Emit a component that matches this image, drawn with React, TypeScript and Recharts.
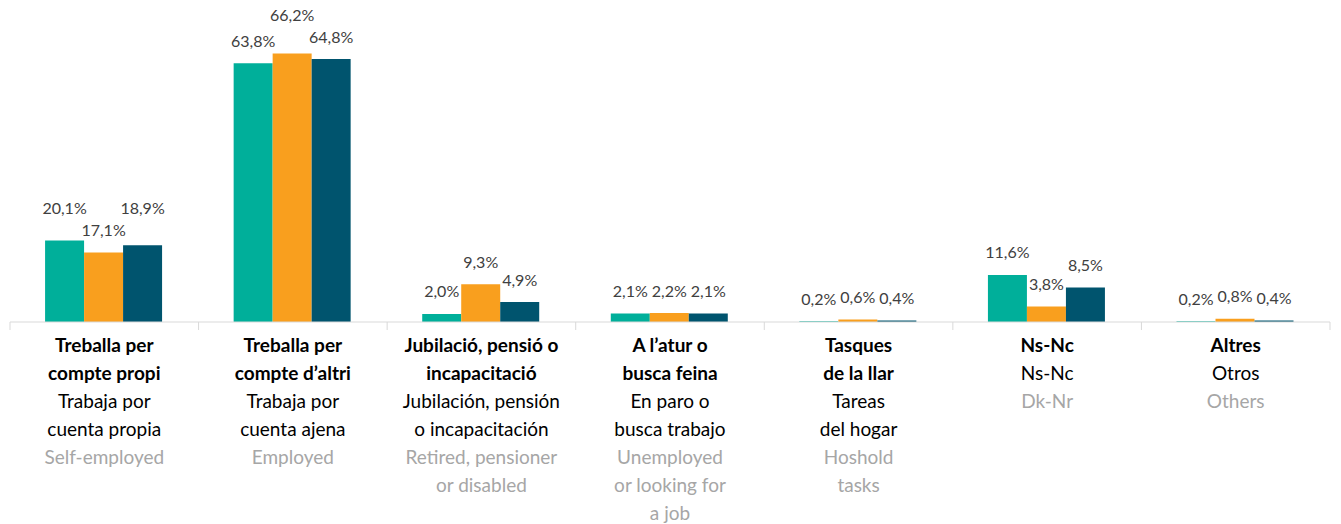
import { BarChart, Bar, XAxis, YAxis, LabelList } from 'recharts'

const categoryKeys = ['propi', 'altri', 'jubilacio', 'atur', 'llar', 'nsnc', 'altres']

// Catalan (bold), Spanish, English lines for every category
const labelsCa = [
  ['Treballa per', 'compte propi'],
  ['Treballa per', 'compte d\u2019altri'],
  ['Jubilació, pensió o', 'incapacitació'],
  ['A l\u2019atur o', 'busca feina'],
  ['Tasques', 'de la llar'],
  ['Ns-Nc'],
  ['Altres'],
]
const labelsEs = [
  ['Trabaja por', 'cuenta propia'],
  ['Trabaja por', 'cuenta ajena'],
  ['Jubilación, pensión', 'o incapacitación'],
  ['En paro o', 'busca trabajo'],
  ['Tareas', 'del hogar'],
  ['Ns-Nc'],
  ['Otros'],
]
const labelsEn = [
  ['Self-employed'],
  ['Employed'],
  ['Retired, pensioner', 'or disabled'],
  ['Unemployed', 'or looking for', 'a job'],
  ['Hoshold', 'tasks'],
  ['Dk-Nr'],
  ['Others'],
]

const serieA = [20.1, 63.8, 2.0, 2.1, 0.2, 11.6, 0.2]
const serieB = [17.1, 66.2, 9.3, 2.2, 0.6, 3.8, 0.8]
const serieC = [18.9, 64.8, 4.9, 2.1, 0.4, 8.5, 0.4]

const series = [serieA, serieB, serieC]
const colors = ['#00AF9A', '#F99F1E', '#00546E']

const data = categoryKeys.map((key, i) => ({
  key,
  a: serieA[i],
  b: serieB[i],
  c: serieC[i],
}))

const W = 1325
const H = 516
const M = { top: 30, right: 3, left: 2, bottom: 0 }
const Y_MAX = 70
const AXIS_H = 202
const PLOT_H = H - M.top - AXIS_H
const BAND = (W - M.left - M.right) / categoryKeys.length
const FONT = 'Lato, "Open Sans", sans-serif'

const fmt = (v: number) => v.toFixed(1).replace('.', ',') + '%'

function textWidth(s: string) {
  let w = 0
  for (const ch of s) w += ch === ',' ? 4 : ch === '%' ? 12.3 : 8.6
  return w
}

// label centre above a bar, before collision handling
const naturalY = (v: number) => M.top + PLOT_H - (v / Y_MAX) * PLOT_H - 22

function makeLabel(si: number) {
  return (props: any) => {
    const { x, width, value, index } = props
    const own = naturalY(value)
    let y = own
    for (const ni of [si - 1, si + 1]) {
      if (ni < 0 || ni >= series.length) continue
      const nv = series[ni][index]
      const other = naturalY(nv)
      const hOverlap = (textWidth(fmt(value)) + textWidth(fmt(nv))) / 2 + 2 > width
      if (hOverlap && own < other && other - own < 16) y = Math.min(y, other - 22)
    }
    return (
      <text
        x={x + width / 2}
        y={y + 5.5}
        textAnchor="middle"
        fontFamily={FONT}
        fontSize={16}
        fill="#404040"
      >
        {fmt(value)}
      </text>
    )
  }
}

function CategoryTick(props: any) {
  const { x, y, payload } = props
  const i = payload.index
  const lines = [
    ...labelsCa[i].map((t) => ({ t, bold: true, fill: '#000000' })),
    ...labelsEs[i].map((t) => ({ t, bold: false, fill: '#000000' })),
    ...labelsEn[i].map((t) => ({ t, bold: false, fill: '#A6A6A6' })),
  ]
  return (
    <g>
      <line x1={x - BAND / 2} x2={x - BAND / 2} y1={y} y2={y + 8} stroke="#D9D9D9" />
      {i === categoryKeys.length - 1 && (
        <line x1={x + BAND / 2} x2={x + BAND / 2} y1={y} y2={y + 8} stroke="#D9D9D9" />
      )}
      {lines.map((l, k) => (
        <text
          key={k}
          x={x}
          y={y + 30 + k * 28}
          textAnchor="middle"
          fontFamily={FONT}
          fontSize={19}
          fontWeight={l.bold ? 700 : 400}
          fill={l.fill}
        >
          {l.t}
        </text>
      ))}
    </g>
  )
}

export default function App() {
  return (
    <div>
      <style>{`.recharts-surface { overflow: visible; }`}</style>
      <BarChart width={W} height={H} data={data} margin={M} barCategoryGap="18.6%" barGap={0}>
        <XAxis
          dataKey="key"
          height={AXIS_H}
          axisLine={{ stroke: '#D9D9D9' }}
          tickLine={false}
          tickSize={0}
          tickMargin={0}
          interval={0}
          tick={<CategoryTick />}
        />
        <YAxis hide domain={[0, Y_MAX]} />
        {['a', 'b', 'c'].map((k, si) => (
          <Bar key={k} dataKey={k} fill={colors[si]} isAnimationActive={false}>
            <LabelList dataKey={k} content={makeLabel(si)} />
          </Bar>
        ))}
      </BarChart>
    </div>
  )
}
